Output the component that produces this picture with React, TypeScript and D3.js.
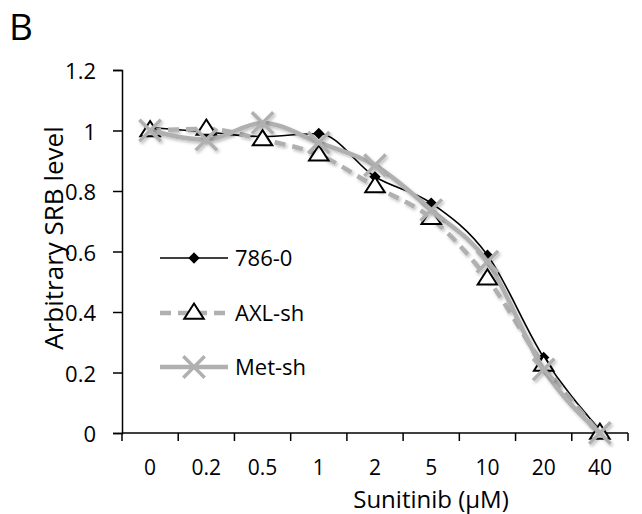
import React, { useEffect, useRef } from 'react';
import * as d3 from 'd3';

// dose categories (µM) and series values
const doses = ['0', '0.2', '0.5', '1', '2', '5', '10', '20', '40'];
const cell786 = [1.01, 0.995, 0.98, 0.99, 0.847, 0.76, 0.588, 0.25, 0.01];
const axlSh = [1.0, 1.005, 0.97, 0.92, 0.815, 0.71, 0.51, 0.225, 0.0];
const metSh = [1.0, 0.97, 1.025, 0.96, 0.885, 0.737, 0.566, 0.21, 0.0];
const yTicks = [0, 0.2, 0.4, 0.6, 0.8, 1, 1.2];

const FONT = '"Open Sans", sans-serif';

// wide open triangle like Excel's marker
const wideTriangle = {
  draw(ctx: any, size: number) {
    const w = Math.sqrt(size) * 1.0;
    const h = w * 0.78;
    ctx.moveTo(0, -h * 0.62);
    ctx.lineTo(w / 2, h * 0.38);
    ctx.lineTo(-w / 2, h * 0.38);
    ctx.closePath();
  },
};

export default function App() {
  const ref = useRef<SVGSVGElement>(null);

  useEffect(() => {
    const svg = d3.select(ref.current);
    svg.selectAll('*').remove();

    const defs = svg.append('defs');
    defs.append('filter').attr('id', 'sh')
      .attr('x', '-20%').attr('y', '-20%').attr('width', '140%').attr('height', '140%')
      .append('feDropShadow')
      .attr('dx', 1.5).attr('dy', 2).attr('stdDeviation', 1.5)
      .attr('flood-color', '#000').attr('flood-opacity', 0.25);

    const left = 122, right = 628, top = 70, bottom = 433;

    const x = d3.scaleBand().domain(doses).range([left, right]);
    const y = d3.scaleLinear().domain([0, 1.2]).range([bottom, top]);
    const cx = (d: string) => (x(d) as number) + x.bandwidth() / 2;

    // y axis
    const yAxis = svg.append('g')
      .attr('transform', `translate(${left},0)`)
      .call(d3.axisLeft(y).tickValues(yTicks).tickSize(9).tickFormat(d => String(+d)));
    yAxis.select('.domain').attr('stroke', '#000').attr('stroke-width', 1.5);
    yAxis.selectAll('.tick line').attr('stroke', '#000').attr('stroke-width', 1.5);
    yAxis.selectAll('.tick text')
      .attr('x', -26).attr('dy', '0.4em')
      .attr('font-family', FONT).attr('font-size', 22).attr('fill', '#000');

    // x axis: ticks at band boundaries
    const xa = svg.append('g').attr('transform', `translate(0,${bottom})`);
    xa.append('line').attr('x1', left).attr('x2', right).attr('stroke', '#000').attr('stroke-width', 1.5);
    const bounds = doses.map(d => x(d) as number).concat([right]);
    xa.selectAll('line.t').data(bounds).enter().append('line')
      .attr('class', 't')
      .attr('x1', d => d).attr('x2', d => d).attr('y1', 0).attr('y2', 8)
      .attr('stroke', '#000').attr('stroke-width', 1.5);
    xa.selectAll('text').data(doses).enter().append('text')
      .attr('x', d => cx(d)).attr('y', 42)
      .attr('text-anchor', 'middle')
      .attr('font-family', FONT).attr('font-size', 21)
      .text(d => d);

    // series
    const gray = '#b0b0b0';
    const line = d3.line<number>()
      .x((_, i) => cx(doses[i]))
      .y(d => y(d))
      .curve(d3.curveMonotoneX);

    const diamond = d3.symbol().type(d3.symbolSquare).size(64);
    const tri = d3.symbol().type(wideTriangle as any).size(380);
    const cross = d3.symbol().type(d3.symbolX).size(300);

    // 786-0
    svg.append('path').attr('d', line(cell786))
      .attr('fill', 'none').attr('stroke', '#000').attr('stroke-width', 1.6);
    svg.selectAll('path.dia').data(cell786).enter().append('path')
      .attr('class', 'dia')
      .attr('d', diamond)
      .attr('transform', (d, i) => `translate(${cx(doses[i])},${y(d)}) rotate(45)`)
      .attr('fill', '#000');

    // AXL-sh
    svg.append('path').attr('d', line(axlSh))
      .attr('fill', 'none').attr('stroke', gray).attr('stroke-width', 4.5)
      .attr('stroke-dasharray', '11,7').attr('filter', 'url(#sh)');
    svg.selectAll('path.tri').data(axlSh).enter().append('path')
      .attr('class', 'tri')
      .attr('d', tri)
      .attr('transform', (d, i) => `translate(${cx(doses[i])},${y(d)})`)
      .attr('fill', '#fff').attr('stroke', '#000').attr('stroke-width', 2);

    // Met-sh
    svg.append('path').attr('d', line(metSh))
      .attr('fill', 'none').attr('stroke', gray).attr('stroke-width', 4.5)
      .attr('filter', 'url(#sh)');
    svg.selectAll('path.crs').data(metSh).enter().append('path')
      .attr('class', 'crs')
      .attr('d', cross)
      .attr('transform', (d, i) => `translate(${cx(doses[i])},${y(d)})`)
      .attr('fill', 'none').attr('stroke', gray).attr('stroke-width', 3.5)
      .attr('filter', 'url(#sh)');

    // legend
    const legend = [
      { name: '786-0', y: 258 },
      { name: 'AXL-sh', y: 313 },
      { name: 'Met-sh', y: 367 },
    ];
    const lg = svg.append('g');
    legend.forEach((l, i) => {
      const ln = lg.append('line').attr('x1', 160).attr('x2', 228).attr('y1', l.y).attr('y2', l.y);
      if (i === 0) ln.attr('stroke', '#000').attr('stroke-width', 1.6);
      else ln.attr('stroke', gray).attr('stroke-width', 4.5);
      if (i === 1) ln.attr('stroke-dasharray', '11,7');
      const m = lg.append('path').attr('transform', `translate(194,${l.y})`);
      if (i === 0) m.attr('d', diamond).attr('fill', '#000').attr('transform', `translate(194,${l.y}) rotate(45)`);
      if (i === 1) m.attr('d', tri).attr('fill', '#fff').attr('stroke', '#000').attr('stroke-width', 2);
      if (i === 2) m.attr('d', cross).attr('fill', 'none').attr('stroke', gray).attr('stroke-width', 3.5);
      lg.append('text').attr('x', 235).attr('y', l.y + 8)
        .attr('font-family', FONT).attr('font-size', 22).text(l.name);
    });

    // titles
    svg.append('text')
      .attr('transform', 'translate(63,238) rotate(-90)')
      .attr('text-anchor', 'middle')
      .attr('font-family', FONT).attr('font-size', 26)
      .text('Arbitrary SRB level');
    svg.append('text')
      .attr('x', 431).attr('y', 508)
      .attr('text-anchor', 'middle')
      .attr('font-family', FONT).attr('font-size', 24)
      .text('Sunitinib (µM)');
    svg.append('text')
      .attr('x', 9).attr('y', 40)
      .attr('font-family', FONT).attr('font-size', 37)
      .text('B');
  }, []);

  return (
    <svg ref={ref} width={642} height={514}
      style={{ position: 'absolute', left: 0, top: 0, background: '#fff' }} />
  );
}
